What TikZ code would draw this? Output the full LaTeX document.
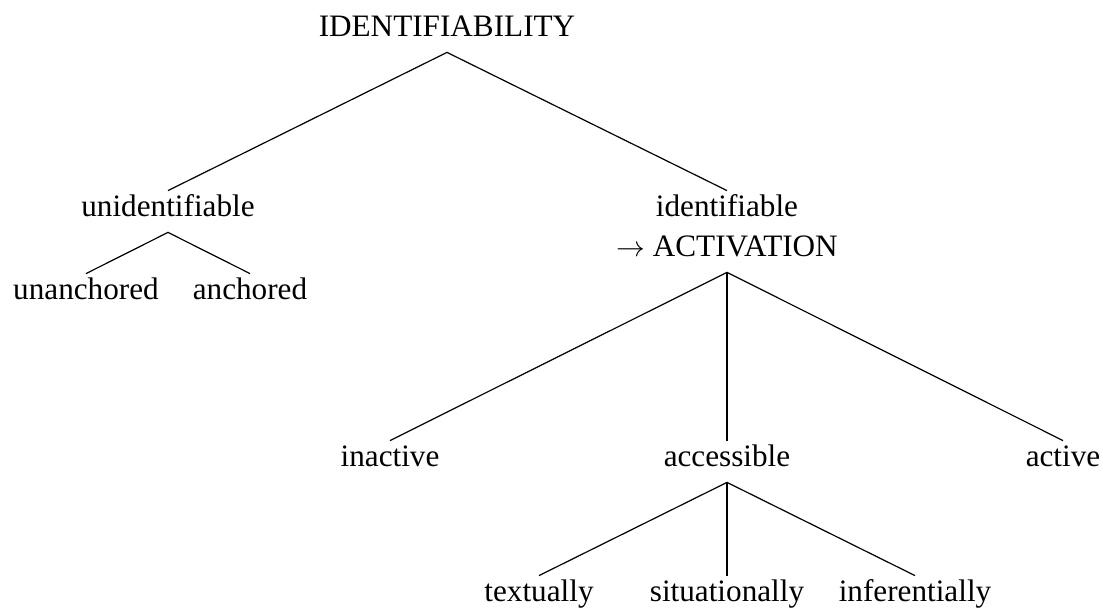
\documentclass[tikz,border=0pt]{standalone}
\usepackage{fontspec}
\setmainfont{Liberation Serif}
\usepackage{amsmath}
\usepackage{tikz}

\begin{document}
\begin{tikzpicture}[x=0.5pt,y=-0.5pt,
    lab/.style={anchor=base,inner sep=0pt,text height=13pt,text depth=7.5pt,
                font=\fontsize{15.6}{19}\selectfont},
    branch/.style={line width=0.6pt}]
\useasboundingbox (0,0) rectangle (1103,608);
% labels, top to bottom, and left to right across a row
\node[lab] (ident) at (447,37) {IDENTIFIABILITY};
\node[lab] (unid) at (168,217) {unidentifiable};
\node[lab] (idf) at (727,217) {identifiable};
\node[lab] (activ) at (727,257) {$\rightarrow$ ACTIVATION};
\node[lab] (unanch) at (86,300) {unanchored};
\node[lab] (anch) at (250,300) {anchored};
\node[lab] (inact) at (390,467) {inactive};
\node[lab] (access) at (727,467) {accessible};
\node[lab] (act) at (1063,467) {active};
\node[lab] (text) at (539,602) {textually};
\node[lab] (situ) at (727,602) {situationally};
\node[lab] (infer) at (915,602) {inferentially};
% branches
\draw[branch] (unid.north) -- (ident.south) -- (idf.north);
\draw[branch] (unanch.north) -- (unid.south) -- (anch.north);
\draw[branch] (inact.north) -- (activ.south) -- (act.north);
\draw[branch] (activ.south) -- (access.north);
\draw[branch] (text.north) -- (access.south) -- (infer.north);
\draw[branch] (access.south) -- (situ.north);
\end{tikzpicture}
\end{document}
